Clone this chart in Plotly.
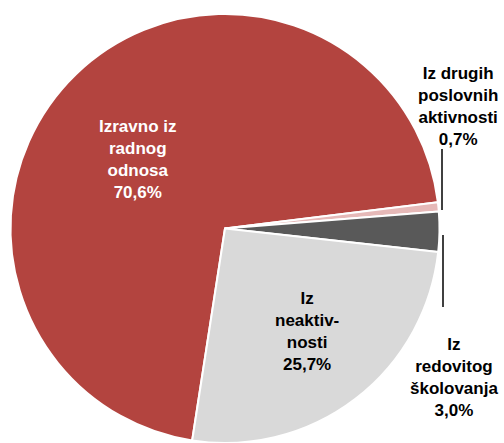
import plotly.graph_objects as go

W, H = 504, 443

# data
labels = [
    "Izravno iz radnog odnosa",
    "Iz drugih poslovnih aktivnosti",
    "Iz redovitog školovanja",
    "Iz neaktivnosti",
]
label_lines = [
    ["Izravno iz", "radnog", "odnosa"],
    ["Iz drugih", "poslovnih", "aktivnosti"],
    ["Iz", "redovitog", "školovanja"],
    ["Iz", "neaktiv-", "nosti"],
]
values = [70.6, 0.7, 3.0, 25.7]
colors = ["#B3443F", "#E6B9B8", "#595959", "#D9D9D9"]
text_colors = ["white", "black", "black", "black"]

# label centres in pixels (x, y from top)
label_pos = [(137, 160), (458, 107), (454, 377), (307, 331)]


def px(x, y):
    return x / W, 1 - y / H


fig = go.Figure()

fig.add_trace(
    go.Pie(
        labels=labels,
        values=values,
        sort=False,
        direction="clockwise",
        rotation=188.8,
        marker=dict(colors=colors, line=dict(color="white", width=2)),
        textinfo="none",
        hoverinfo="label+percent",
        domain=dict(x=[10.5 / W, 439.5 / W], y=[0, 1 - 14 / H]),
        showlegend=False,
    )
)

# slice labels
for lines, v, c, (lx, ly) in zip(label_lines, values, text_colors, label_pos):
    rows = lines + [f"{v:.1f}%".replace(".", ",")]
    ax, ay = px(lx, ly)
    fig.add_annotation(
        x=ax,
        y=ay,
        xref="paper",
        yref="paper",
        text="<br>".join(f"<b>{r}</b>" for r in rows),
        showarrow=False,
        xanchor="center",
        yanchor="middle",
        align="center",
        font=dict(family="Liberation Sans, Arial", size=17, color=c),
    )

# leader lines
for x0, y0, y1 in [(442, 149, 210), (443, 235, 307)]:
    sx, sy0 = px(x0, y0)
    _, sy1 = px(x0, y1)
    fig.add_shape(
        type="line",
        xref="paper",
        yref="paper",
        x0=sx,
        x1=sx,
        y0=sy0,
        y1=sy1,
        line=dict(color="black", width=1.5),
    )

fig.update_layout(
    width=W,
    height=H,
    margin=dict(l=0, r=0, t=0, b=0),
    paper_bgcolor="white",
    plot_bgcolor="white",
)

fig.write_html(
    "out.html",
    config={"displayModeBar": False},
    post_script="document.body.style.margin='0';",
)
